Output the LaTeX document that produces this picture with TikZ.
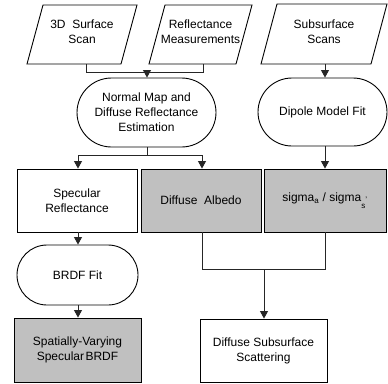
\documentclass[tikz,border=0pt]{standalone}
\usepackage{fontspec}
\setmainfont{Liberation Sans}
\usetikzlibrary{arrows.meta}
\definecolor{boxgray}{HTML}{C0C0C0}
\begin{document}
\begin{tikzpicture}[x=1pt,y=-1pt,
  every node/.style={font=\fontsize{12}{15}\selectfont, align=center, inner sep=0pt},
  shp/.style={draw=black, line width=0.9pt},
  box/.style={shp, rectangle},
  graybox/.style={box, fill=boxgray},
  stadium/.style={shp, rectangle},
  conn/.style={line width=0.9pt, draw=black!85},
  arr/.style={conn, -{Triangle[length=7.5pt,width=8pt]}}
]
\useasboundingbox (0,0) rectangle (388,383);
% parallelograms
\draw[shp] (43,5) -- (137,5) -- (121,64) -- (27,64) -- cycle;
\node (p1) at (82,32) {3D~~Surface\\Scan};
\draw[shp] (165,5) -- (252,5) -- (236,64) -- (149,64) -- cycle;
\node (p2) at (200.5,32) {Reflectance\\Measurements};
\draw[shp] (277,4) -- (387,4) -- (371,64) -- (261,64) -- cycle;
\node (p3) at (324,32) {Subsurface\\Scans};
\coordinate (p1b) at (86,64);
\coordinate (p2b) at (203,64);
\coordinate (p3b) at (325,64);
% stadiums
\node[stadium, rounded corners=34.5pt, minimum width=139pt, minimum height=69pt] (nm) at (146.5,112.5) {Normal Map and\\Diffuse Reflectance\\Estimation};
\node[stadium, rounded corners=34pt, minimum width=129pt, minimum height=68pt] (dm) at (322.5,112) {Dipole Model Fit};
\node[stadium, rounded corners=30pt, minimum width=121pt, minimum height=60pt] (bf) at (77.5,275) {BRDF Fit};
% boxes
\node[box, minimum width=120pt, minimum height=63pt] (sr) at (77,200.5) {Specular\\Reflectance};
\node[graybox, minimum width=120pt, minimum height=63pt] (da) at (201,200.5) {Diffuse~~Albedo};
\node[graybox, minimum width=122pt, minimum height=63pt] (sg) at (325,200.5) {sigma\textsubscript{a} / sigma\textsubscript{s\raisebox{1.3ex}{'}}};
\node[graybox, minimum width=127pt, minimum height=64pt] (sv) at (77.5,350) {Spatially-Varying\\Specular\hspace{0.12em}BRDF};
\node[box, minimum width=127pt, minimum height=63pt] (ds) at (263.5,350.5) {Diffuse Subsurface\\Scattering};
% connectors
\coordinate (m1) at (86,72);
\coordinate (m2) at (203,72);
\coordinate (mm) at (147,72);
\draw[conn] (p1b) -- (m1) -- (m2) -- (p2b);
\draw[arr] (mm) -- (mm |- nm.north);
\draw[arr] (p3b) -- (p3b |- dm.north);
\coordinate (s0) at (147,155);
\coordinate (s1) at (78,155);
\coordinate (s2) at (202,155);
\draw[conn] (nm.south -| s0) -- (s0);
\draw[conn] (s1) -- (s2);
\draw[arr] (s1) -- (s1 |- sr.north);
\draw[arr] (s2) -- (s2 |- da.north);
\draw[arr] (dm.south -| p3b) -- (p3b |- sg.north);
\draw[arr] (sr.south -| s1) -- (s1 |- bf.north);
\draw[arr] (bf.south -| s1) -- (s1 |- sv.north);
\coordinate (j1) at (202,269);
\coordinate (j2) at (325,269);
\coordinate (jm) at (264,269);
\draw[conn] (da.south -| j1) -- (j1) -- (j2) -- (sg.south -| j2);
\draw[arr] (jm) -- (jm |- ds.north);
\end{tikzpicture}
\end{document}
